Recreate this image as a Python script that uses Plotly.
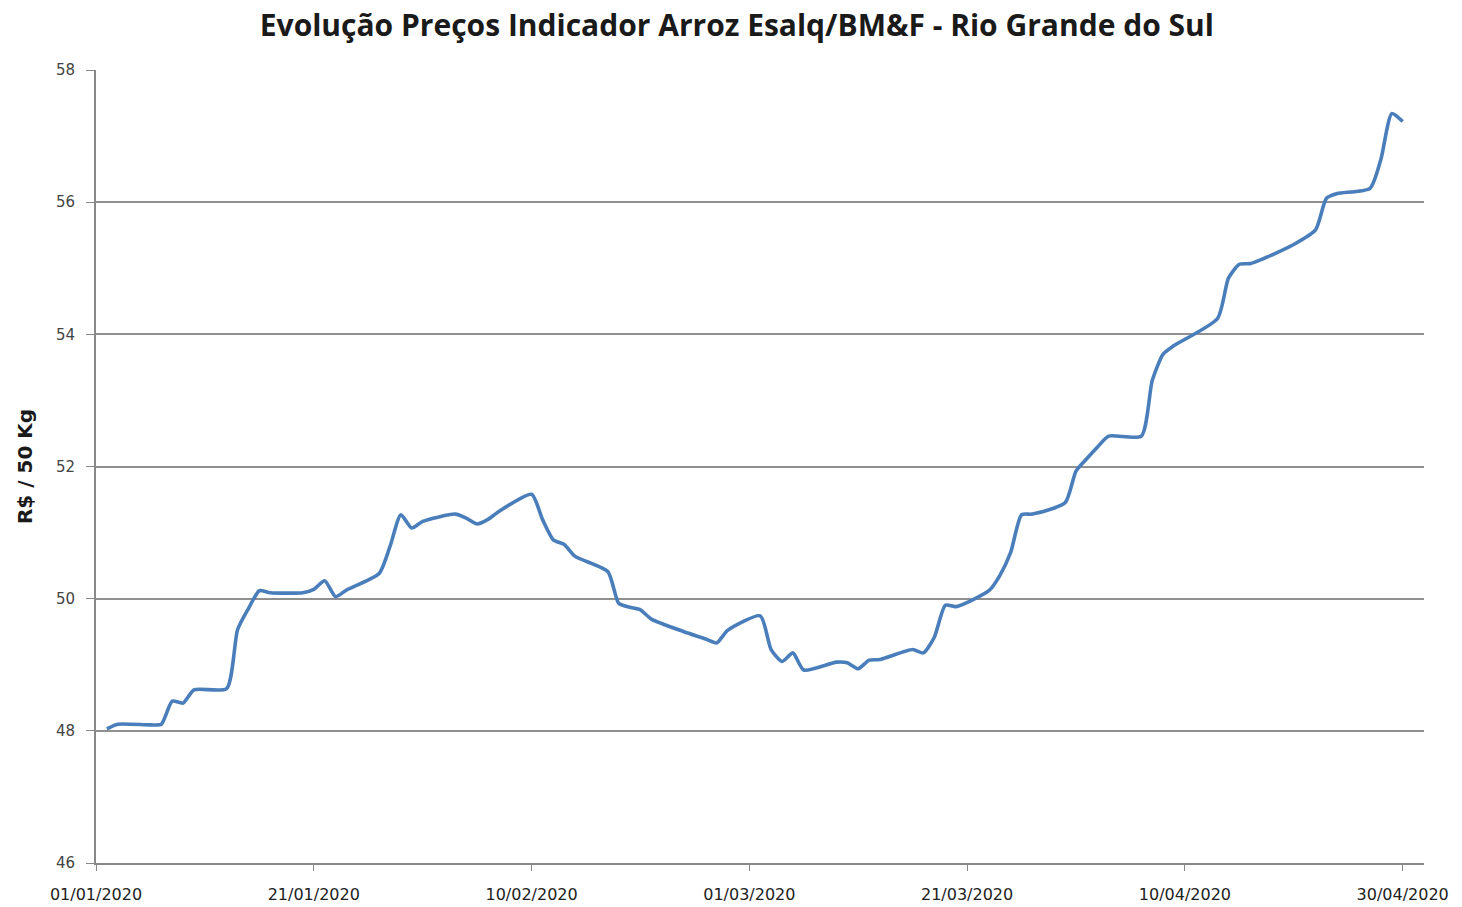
import plotly.graph_objects as go

dates = [
    "2020-01-02", "2020-01-03", "2020-01-06", "2020-01-07", "2020-01-08", "2020-01-09", "2020-01-10",
    "2020-01-13", "2020-01-14", "2020-01-15", "2020-01-16", "2020-01-17",
    "2020-01-20", "2020-01-21", "2020-01-22", "2020-01-23", "2020-01-24",
    "2020-01-27", "2020-01-28", "2020-01-29", "2020-01-30", "2020-01-31",
    "2020-02-03", "2020-02-04", "2020-02-05", "2020-02-06", "2020-02-07",
    "2020-02-10", "2020-02-11", "2020-02-12", "2020-02-13", "2020-02-14",
    "2020-02-17", "2020-02-18", "2020-02-19", "2020-02-20", "2020-02-21",
    "2020-02-24", "2020-02-26", "2020-02-27", "2020-02-28",
    "2020-03-02", "2020-03-03", "2020-03-04", "2020-03-05", "2020-03-06",
    "2020-03-09", "2020-03-10", "2020-03-11", "2020-03-12", "2020-03-13",
    "2020-03-16", "2020-03-17", "2020-03-18", "2020-03-19", "2020-03-20",
    "2020-03-23", "2020-03-24", "2020-03-25", "2020-03-26", "2020-03-27",
    "2020-03-30", "2020-03-31", "2020-04-01", "2020-04-02", "2020-04-03",
    "2020-04-06", "2020-04-07", "2020-04-08", "2020-04-09",
    "2020-04-13", "2020-04-14", "2020-04-15", "2020-04-16", "2020-04-17",
    "2020-04-20", "2020-04-22", "2020-04-23", "2020-04-24",
    "2020-04-27", "2020-04-28", "2020-04-29", "2020-04-30",
]

precos = [
    48.03, 48.10, 48.09, 48.10, 48.45, 48.42, 48.62,
    48.64, 49.53, 49.85, 50.12, 50.09,
    50.09, 50.14, 50.27, 50.03, 50.13,
    50.38, 50.79, 51.27, 51.07, 51.17,
    51.28, 51.22, 51.13, 51.20, 51.32,
    51.58, 51.20, 50.89, 50.82, 50.64,
    50.41, 49.93, 49.87, 49.83, 49.69,
    49.50, 49.39, 49.33, 49.52,
    49.74, 49.23, 49.05, 49.18, 48.92,
    49.04, 49.03, 48.94, 49.07, 49.08,
    49.23, 49.18, 49.42, 49.90, 49.88,
    50.12, 50.35, 50.70, 51.27, 51.28,
    51.45, 51.93, 52.12, 52.30, 52.46,
    52.46, 53.30, 53.70, 53.83,
    54.24, 54.85, 55.06, 55.07, 55.13,
    55.36, 55.58, 56.06, 56.13,
    56.21, 56.65, 57.34, 57.22,
]

titulo = "Evolução Preços Indicador Arroz Esalq/BM&F - Rio Grande do Sul"
eixo_y = "R$ / 50 Kg"

fig = go.Figure()
fig.add_trace(go.Scatter(
    x=dates, y=precos, mode="lines",
    line=dict(color="#4a7ebb", width=3.6, shape="spline", smoothing=0.6),
    showlegend=False,
))

fig.update_layout(
    width=1462, height=907,
    margin=dict(l=96, r=38, t=70, b=44),
    paper_bgcolor="white", plot_bgcolor="white",
    title=dict(text="<b>" + titulo + "</b>", x=0.504, xanchor="center", y=0.9724, yanchor="middle",
               font=dict(family="Open Sans, sans-serif", size=30, color="#1a1a1a")),
    font=dict(family="DejaVu Sans", color="#333333"),
)

fig.update_xaxes(
    type="date",
    range=["2020-01-01", "2020-05-01 23:00"],
    tick0="2020-01-01", dtick=20 * 86400000,
    tickformat="%d/%m/%Y",
    ticks="outside", ticklen=6, tickcolor="#888888",
    showline=True, linecolor="#888888", linewidth=2,
    showgrid=False, zeroline=False, automargin=False,
    ticklabelstandoff=10,
    tickfont=dict(family="DejaVu Sans", size=16, color="#222222"),
)
fig.update_yaxes(
    range=[46, 58], dtick=2,
    ticks="outside", ticklen=8, tickcolor="#888888",
    showline=True, linecolor="#888888", linewidth=2,
    showgrid=True, gridcolor="#8f8f8f", gridwidth=2,
    zeroline=False, automargin=False,
    ticklabelstandoff=8,
    tickfont=dict(family="DejaVu Sans", size=15, color="#444444"),
    title=dict(text="<b>" + eixo_y + "</b>", font=dict(family="DejaVu Sans", size=20, color="#1a1a1a"), standoff=18),
)

fig.write_html("out.html", config={"displayModeBar": False},
               post_script="document.body.style.margin='0';")
